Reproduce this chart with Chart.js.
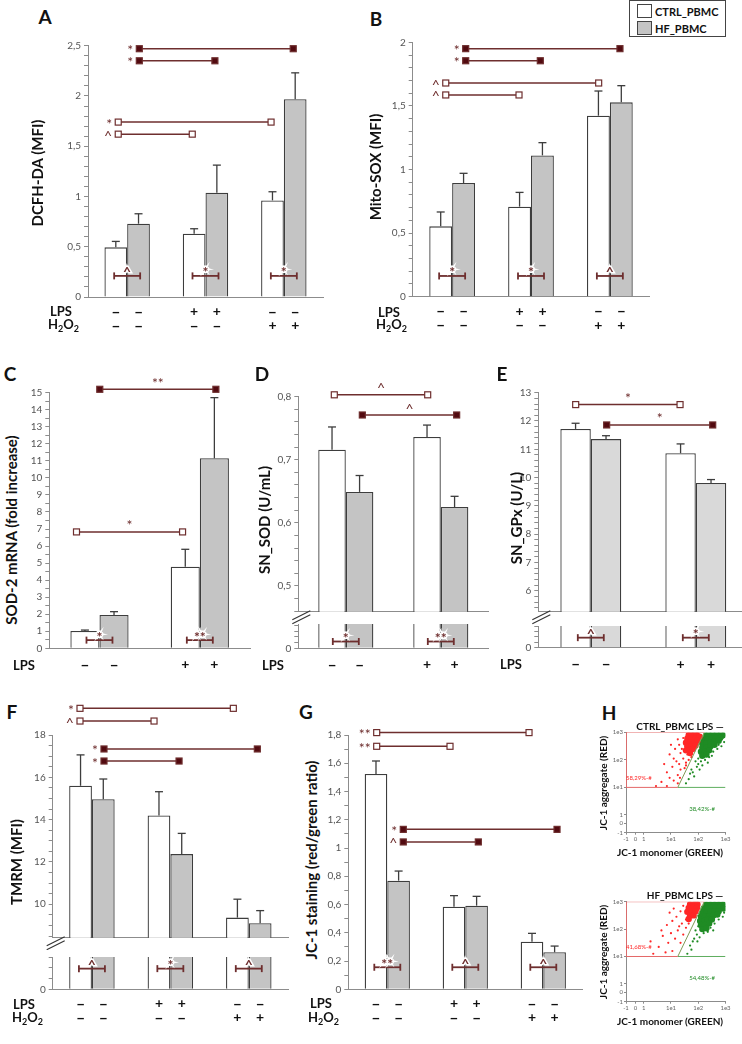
<!DOCTYPE html>
<html>
<head>
<meta charset="utf-8">
<script src="https://cdn.jsdelivr.net/npm/chart.js@4.4.0/dist/chart.umd.min.js"></script>
<style>
html, body { margin: 0; padding: 0; background: #fff; overflow: hidden; }
#fig { position: relative; width: 742px; height: 1044px; overflow: hidden; font-family: Lato, sans-serif; color: #111; }
#fig canvas { position: absolute; }
.let { position: absolute; font-weight: bold; font-size: 19px; transform: translate(-50%, -50%); }
.yt { position: absolute; white-space: nowrap; font-weight: bold; font-size: 15px; transform: translate(-50%, -50%) rotate(-90deg); }
.row { position: absolute; white-space: nowrap; font-weight: bold; font-size: 13px; transform: translateY(-50%); }
.row sub { font-size: 9px; vertical-align: -3px; }
.ht { position: absolute; white-space: nowrap; font-weight: bold; font-size: 10px; transform: translate(-50%, -50%); }
.hy { position: absolute; white-space: nowrap; font-weight: bold; font-size: 10px; transform: translate(-50%, -50%) rotate(-90deg); }
#legend { position: absolute; left: 629px; top: 0px; width: 95px; height: 35px; border: 1px solid #444; font-weight: bold; font-size: 11px; }
#legend div { position: absolute; left: 25px; transform: translateY(-50%); white-space: nowrap; }
#legend span { position: absolute; left: 7px; width: 13px; height: 12px; border: 1px solid #444; }
</style>
</head>
<body>
<div id="fig"><div id="legend"></div></div>
<script>
const series = ['CTRL_PBMC', 'HF_PBMC'];

// A: DCFH-DA (MFI)
const groups3 = ['basal', 'LPS', 'H2O2'];
const ctrlA = [0.494, 0.629, 0.961];
const ctrlErrA = [0.059, 0.05, 0.086];
const hfA = [0.729, 1.037, 1.968];
const hfErrA = [0.099, 0.275, 0.262];
const ticksA = [0, 0.5, 1, 1.5, 2, 2.5];
const innerA = ['^', '*', '*'];
const sigA = [
  {x1: 0.155, x2: 2.12, y: 2.47, fill: true, s: '*'},
  {x1: 0.155, x2: 1.12, y: 2.35, fill: true, s: '*'},
  {x1: -0.114, x2: 1.837, y: 1.74, fill: false, s: '*'},
  {x1: -0.114, x2: 0.831, y: 1.62, fill: false, s: '^'}
];

// B: Mito-SOX (MFI)
const ctrlB = [0.553, 0.708, 1.423];
const ctrlErrB = [0.113, 0.112, 0.194];
const hfB = [0.894, 1.111, 1.528];
const hfErrB = [0.076, 0.1, 0.131];
const ticksB = [0, 0.5, 1, 1.5, 2];
const innerB = ['*', '*', '^'];
const sigB = [
  {x1: 0.172, x2: 2.128, y: 1.95, fill: true, s: '*'},
  {x1: 0.172, x2: 1.118, y: 1.855, fill: true, s: '*'},
  {x1: -0.081, x2: 1.858, y: 1.68, fill: false, s: '^'},
  {x1: -0.081, x2: 0.848, y: 1.586, fill: false, s: '^'}
];

// C: SOD-2 mRNA (fold increase)
const groups2 = ['basal', 'LPS'];
const ctrlC = [1.02, 4.79];
const ctrlErrC = [0.05, 1.02];
const hfC = [1.96, 11.15];
const hfErrC = [0.19, 3.56];
const ticksC = [0, 1, 2, 3, 4, 5, 6, 7, 8, 9, 10, 11, 12, 13, 14, 15];
const innerC = ['*', '**'];
const sigC = [
  {x1: 0.003, x2: 1.16, y: 15.2, fill: true, s: '**', top: true},
  {x1: -0.229, x2: 0.828, y: 6.83, fill: false, s: '*', top: true}
];

// D: SN_SOD (U/mL)
const ctrlD = [0.716, 0.736];
const ctrlErrD = [0.036, 0.019];
const hfD = [0.649, 0.625];
const hfErrD = [0.026, 0.017];
const ticksD = [0.5, 0.6, 0.7, 0.8];
const innerD = ['*', '**'];
const sigD = [
  {x1: -0.121, x2: 0.862, y: 0.803, fill: false, s: '^', top: true},
  {x1: 0.174, x2: 1.167, y: 0.771, fill: true, s: '^', top: true}
];

// E: SN_GPx (U/L)
const ctrlE = [11.72, 10.86];
const ctrlErrE = [0.2, 0.33];
const hfE = [11.36, 9.81];
const hfErrE = [0.12, 0.12];
const ticksE = [6, 7, 8, 9, 10, 11, 12, 13];
const innerE = ['^', '*'];
const sigE = [
  {x1: -0.144, x2: 0.85, y: 12.58, fill: false, s: '*', top: true},
  {x1: 0.151, x2: 1.161, y: 11.86, fill: true, s: '*', top: true}
];

// F: TMRM (MFI)
const ctrlF = [15.6, 14.2, 9.37];
const ctrlErrF = [1.46, 1.12, 0.87];
const hfF = [14.96, 12.37, 9.1];
const hfErrF = [0.96, 0.98, 0.6];
const ticksF = [10, 12, 14, 16, 18];
const innerF = ['^', '*', '^'];
const sigF = [
  {x1: -0.152, x2: 1.803, y: 19.26, fill: false, s: '*'},
  {x1: -0.152, x2: 0.792, y: 18.66, fill: false, s: '^'},
  {x1: 0.154, x2: 2.109, y: 17.34, fill: true, s: '*'},
  {x1: 0.154, x2: 1.111, y: 16.77, fill: true, s: '*'}
];

// G: JC-1 staining (red/green ratio)
const ctrlG = [1.524, 0.585, 0.337];
const ctrlErrG = [0.092, 0.078, 0.059];
const hfG = [0.769, 0.592, 0.262];
const hfErrG = [0.068, 0.066, 0.044];
const ticksG = [0, 0.2, 0.4, 0.6, 0.8, 1, 1.2, 1.4, 1.6, 1.8];
const innerG = ['**', '^', '^'];
const sigG = [
  {x1: -0.136, x2: 1.817, y: 1.817, fill: false, s: '**'},
  {x1: -0.136, x2: 0.804, y: 1.72, fill: false, s: '**'},
  {x1: 0.205, x2: 2.176, y: 1.132, fill: true, s: '*'},
  {x1: 0.205, x2: 1.167, y: 1.043, fill: true, s: '^'}
];

// treatment rows under the bars
const lpsRow3 = ['–', '–', '+', '+', '–', '–'];
const h2o2Row3 = ['–', '–', '–', '–', '+', '+'];
const lpsRow2 = ['–', '–', '+', '+'];

// H: flow cytometry, axis units (-1, 0, 1, 1e1, 1e2, 1e3)
const flowTicks = [0, 0.35, 0.65, 1.65, 2.65, 3.65];
const flowTickLabels = ['-1', '0', '1', '1e1', '1e2', '1e3'];
const gateRed = [[2.87, 3.65], [0, 3.65], [0, 1.65], [1.9, 1.65]];
const gateGreen = [[1.9, 1.65], [3.65, 1.65]];
const gateDiag = [[1.9, 1.65], [2.87, 3.65]];
const ctrlRedCore = [[2.3, 3.55], [2.45, 3.55], [2.6, 3.55], [2.25, 3.42], [2.4, 3.42], [2.55, 3.42], [2.7, 3.5],
  [2.2, 3.28], [2.35, 3.28], [2.5, 3.3], [2.62, 3.35], [2.25, 3.15], [2.4, 3.15], [2.55, 3.18], [2.3, 3.02],
  [2.45, 3.05], [2.35, 2.9], [2.2, 3.0]];
const ctrlRed = [[1.95, 3.2], [2.0, 2.9], [2.1, 2.7], [1.85, 2.6], [2.2, 2.55], [1.7, 2.4], [2.0, 2.3], [1.6, 2.85],
  [1.8, 3.05], [2.3, 2.65], [1.5, 2.2], [1.9, 2.1], [1.98, 2.0], [1.4, 2.5], [1.75, 1.9], [1.3, 1.85], [1.9, 1.8],
  [1.6, 2.0], [2.15, 2.35], [1.95, 2.5], [2.25, 2.85], [1.75, 2.7], [1.1, 1.7], [1.5, 1.7], [2.4, 2.75], [2.05, 3.05],
  [1.9, 3.4], [2.1, 3.45], [1.65, 3.2], [2.2, 2.45]];
const ctrlGreenCore = [[2.95, 3.55], [3.1, 3.55], [3.25, 3.55], [3.4, 3.55], [3.55, 3.55], [2.85, 3.4], [3.0, 3.4],
  [3.15, 3.42], [3.3, 3.45], [3.45, 3.45], [2.8, 3.25], [2.95, 3.25], [3.1, 3.28], [3.25, 3.32], [3.4, 3.35],
  [2.8, 3.1], [2.95, 3.1], [3.1, 3.15], [3.25, 3.2], [2.75, 2.95], [2.9, 2.95], [3.05, 3.0], [2.8, 2.8], [2.95, 2.85]];
const ctrlGreen = [[2.6, 2.4], [2.7, 2.3], [2.55, 2.6], [2.65, 2.7], [2.75, 2.6], [2.9, 2.65], [3.05, 2.75], [3.2, 2.95],
  [3.35, 3.05], [3.5, 3.15], [3.6, 3.3], [2.45, 2.2], [2.5, 2.05], [2.3, 1.95], [2.8, 2.45], [3.0, 2.55], [3.15, 2.8],
  [3.4, 3.2], [2.65, 2.5], [3.55, 3.45], [2.4, 2.3], [2.2, 1.8], [2.35, 2.15]];
const hfRedCore = [[2.35, 3.55], [2.5, 3.55], [2.62, 3.55], [2.3, 3.42], [2.45, 3.42], [2.6, 3.42], [2.25, 3.28],
  [2.4, 3.28], [2.55, 3.3], [2.35, 3.15], [2.48, 3.15], [2.3, 3.02]];
const hfRed = [[2.0, 3.3], [1.85, 3.1], [1.7, 2.95], [2.05, 2.85], [1.5, 2.8], [1.9, 2.6], [1.65, 2.5], [2.2, 2.7],
  [1.35, 2.4], [1.8, 2.3], [2.0, 2.15], [1.55, 2.15], [1.2, 2.0], [1.7, 1.85], [1.45, 1.8], [1.0, 1.75], [2.1, 2.45],
  [1.95, 2.75], [2.2, 3.0], [1.6, 3.25], [2.1, 3.5], [1.75, 3.4], [2.3, 2.85], [1.3, 2.6], [0.9, 2.2]];
const hfGreenCore = [[2.95, 3.55], [3.1, 3.55], [3.25, 3.55], [3.4, 3.55], [3.55, 3.55], [2.85, 3.4], [3.0, 3.4],
  [3.15, 3.42], [3.3, 3.45], [3.45, 3.45], [3.58, 3.4], [2.8, 3.25], [2.95, 3.25], [3.1, 3.28], [3.25, 3.3], [3.4, 3.3],
  [2.75, 3.1], [2.9, 3.1], [3.05, 3.12], [3.2, 3.15], [3.35, 3.18], [2.72, 2.95], [2.87, 2.95], [3.0, 2.98],
  [3.15, 3.0], [2.75, 2.8], [2.9, 2.8], [3.05, 2.85], [2.8, 2.65], [2.95, 2.68]];
const hfGreen = [[2.6, 2.45], [2.7, 2.35], [2.55, 2.6], [2.65, 2.75], [3.1, 2.7], [3.25, 2.85], [3.4, 3.0], [3.55, 3.1],
  [2.45, 2.2], [2.35, 2.05], [2.5, 2.3], [2.85, 2.5], [3.0, 2.55], [3.6, 3.25], [2.4, 1.9], [2.25, 1.75], [2.62, 2.2],
  [3.2, 2.6]];
const ctrlPct = ['58,29%-#', '38,42%-#'];
const hfPct = ['41,68%-#', '54,48%-#'];

Chart.defaults.font.family = 'Lato, sans-serif';
const fig = document.getElementById('fig');
const AXIS = '#8c8c8c', EDGE = '#3d3d3d', MAROON = '#6e2e2e', DARK = '#520a10';
const GREY = '#c4c4c4', GREY_E = '#d9d9d9', RED = '#ff2626', GREEN = '#1f8b24';

function canvas(x, y, w, h) {
  const c = document.createElement('canvas');
  c.width = w; c.height = h;
  c.style.left = x + 'px'; c.style.top = y + 'px';
  c.style.width = w + 'px'; c.style.height = h + 'px';
  fig.appendChild(c);
  return c;
}

function put(html, cls, x, y) {
  const d = document.createElement('div');
  d.className = cls; d.innerHTML = html;
  d.style.left = x + 'px'; d.style.top = y + 'px';
  fig.appendChild(d);
}

function tickList(min, max, step) {
  const out = [];
  for (let k = Math.ceil(min / step - 1e-9); k * step <= max + 1e-9; k++) {
    out.push({value: Math.round(k * step * 1e6) / 1e6});
  }
  return out;
}
const fmt = v => String(v).replace('.', ',');

// error bars, significance brackets, inner markers, +/- rows, axis break
const deco = {
  id: 'deco',
  afterDraw(chart, args, o) {
    if (!o) return;
    const {ctx, chartArea: a, scales: {x, y}} = chart;
    const seg = (x1, y1, x2, y2) => { ctx.beginPath(); ctx.moveTo(x1, y1); ctx.lineTo(x2, y2); ctx.stroke(); };
    ctx.save();
    ctx.textAlign = 'center';
    ctx.textBaseline = 'middle';

    (o.err || []).forEach((errs, di) => {
      const ds = chart.data.datasets[di];
      chart.getDatasetMeta(di).data.forEach((bar, i) => {
        const y0 = y.getPixelForValue(ds.data[i]);
        const y1 = y.getPixelForValue(ds.data[i] + errs[i]);
        ctx.strokeStyle = EDGE; ctx.lineWidth = 1.3;
        seg(bar.x, y0, bar.x, y1);
        seg(bar.x - 4, y1, bar.x + 4, y1);
      });
    });

    (o.brackets || []).forEach(b => {
      const p1 = x.getPixelForValue(b.x1), p2 = x.getPixelForValue(b.x2), py = y.getPixelForValue(b.y);
      ctx.strokeStyle = MAROON; ctx.lineWidth = 1.5;
      seg(p1, py, p2, py);
      [p1, p2].forEach(px => {
        ctx.fillStyle = b.fill ? DARK : '#fff';
        ctx.fillRect(px - 3, py - 3, 6, 6);
        ctx.lineWidth = 1.2;
        ctx.strokeRect(px - 3, py - 3, 6, 6);
      });
      ctx.fillStyle = MAROON;
      ctx.font = '14px Lato';
      if (b.top) {
        ctx.fillText(b.s, (p1 + p2) / 2, py - 6);
      } else {
        ctx.textAlign = 'right';
        ctx.fillText(b.s, p1 - 6, py + 2);
        ctx.textAlign = 'center';
      }
    });

    if (o.inner) {
      o.inner.s.forEach((s, i) => {
        const cx = x.getPixelForValue(i), py = y.getPixelForValue(o.inner.y);
        ctx.strokeStyle = MAROON; ctx.lineWidth = 1.8;
        seg(cx - 13, py, cx + 13, py);
        seg(cx - 13, py - 3.5, cx - 13, py + 3.5);
        seg(cx + 13, py - 3.5, cx + 13, py + 3.5);
        ctx.font = 'bold 14px Lato';
        ctx.lineWidth = 3; ctx.strokeStyle = '#fff';
        ctx.strokeText(s, cx, py - 3);
        ctx.fillStyle = MAROON;
        ctx.fillText(s, cx, py - 3);
      });
    }

    (o.rows || []).forEach((row, r) => {
      ctx.fillStyle = '#111';
      row.forEach((s, k) => {
        const bar = chart.getDatasetMeta(k % 2).data[Math.floor(k / 2)];
        ctx.font = s === '+' ? 'bold 14px Lato' : 'bold 16px Lato';
        ctx.fillText(s, bar.x, a.bottom + o.rowY + r * 14);
      });
    });

    if (o.brk) {
      ctx.strokeStyle = '#333'; ctx.lineWidth = 1.2;
      seg(a.left - 6, a.bottom + 12, a.left + 12, a.bottom + 3);
      seg(a.left - 6, a.bottom + 8, a.left + 12, a.bottom - 1);
    }
    ctx.restore();
  }
};

function barChart(o) {
  const [cx, cy, cw, ch] = o.box, [L, T, R, B] = o.area;
  const cv = canvas(cx, cy, cw, ch);
  const mk = (label, data, bg) => ({
    label, data, backgroundColor: bg, borderColor: EDGE, borderWidth: 1.3,
    categoryPercentage: 0.58, barPercentage: 1, clip: 0
  });
  return new Chart(cv, {
    type: 'bar',
    data: {labels: o.labels, datasets: [mk(series[0], o.ctrl, '#fff'), mk(series[1], o.hf, o.grey || GREY)]},
    options: {
      responsive: false, animation: false, events: [],
      layout: {padding: {left: 0, top: T - cy, right: cx + cw - R, bottom: cy + ch - B}},
      plugins: {legend: {display: false}, tooltip: {enabled: false}, deco: o.deco},
      scales: {
        x: {
          ticks: {display: false}, grid: {display: false}, border: {color: AXIS},
          afterFit: s => { s.height = 0; }
        },
        y: {
          min: o.min, max: o.max,
          afterFit: s => { s.width = L - cx; },
          afterBuildTicks: s => { s.ticks = tickList(o.min, o.max, o.step); },
          ticks: {
            autoSkip: false, color: '#555', font: {size: 10}, padding: 3,
            callback: v => o.majors.some(m => Math.abs(m - v) < 1e-6) ? fmt(v) : ''
          },
          grid: {drawOnChartArea: false, tickLength: 4, color: AXIS},
          border: {color: AXIS}
        }
      }
    },
    plugins: [deco]
  });
}

const flowText = {
  id: 'flowText',
  afterDatasetsDraw(chart, args, o) {
    const {ctx, scales: {x, y}} = chart;
    ctx.save();
    ctx.font = '6px Lato';
    ctx.textAlign = 'center'; ctx.textBaseline = 'middle';
    o.items.forEach(t => {
      ctx.fillStyle = t.c;
      ctx.fillText(t.t, x.getPixelForValue(t.x), y.getPixelForValue(t.y));
    });
    ctx.restore();
  }
};

function flowChart(o) {
  const [cx, cy, cw, ch] = o.box, [L, T, R, B] = o.area;
  const cv = canvas(cx, cy, cw, ch);
  const pts = d => d.map(([x, y]) => ({x, y}));
  const line = (d, c) => ({data: pts(d), showLine: true, borderColor: c, borderWidth: 1, pointRadius: 0, fill: false});
  const dots = (d, c, r) => ({data: pts(d), pointBackgroundColor: c, pointBorderWidth: 0, pointRadius: r});
  const axis = fit => ({
    type: 'linear', min: 0, max: 3.65, afterFit: fit,
    afterBuildTicks: s => { s.ticks = flowTicks.map(value => ({value})); },
    ticks: {autoSkip: false, color: '#666', font: {size: 6}, padding: 1, callback: (v, i) => flowTickLabels[i]},
    grid: {drawOnChartArea: false, tickLength: 2, color: AXIS},
    border: {color: AXIS}
  });
  return new Chart(cv, {
    type: 'scatter',
    data: {datasets: [
      line(gateRed, '#e46868'), line(gateGreen, '#5fae5f'), line(gateDiag, '#7f9a55'),
      dots(o.redCore, RED, 3.2), dots(o.red, RED, 1.1),
      dots(o.greenCore, GREEN, 3.2), dots(o.green, GREEN, 1.1)
    ]},
    options: {
      responsive: false, animation: false, events: [],
      layout: {padding: {left: 0, top: T - cy, right: cx + cw - R, bottom: cy + ch - B - 9}},
      plugins: {legend: {display: false}, tooltip: {enabled: false}, flowText: {items: [
        {t: o.pct[0], x: 0.47, y: 2.0, c: RED}, {t: o.pct[1], x: 2.79, y: 0.86, c: GREEN}
      ]}},
      scales: {x: axis(s => { s.height = 9; }), y: axis(s => { s.width = L - cx; })}
    },
    plugins: [flowText]
  });
}

// legend
const leg = document.getElementById('legend');
series.forEach((name, i) => {
  leg.innerHTML += `<span style="top:${3 + i * 17}px;background:${i ? GREY : '#fff'}"></span>` +
    `<div style="top:${10 + i * 16.5}px">${name}</div>`;
});

// A
barChart({box: [40, 30, 290, 305], area: [88, 45.7, 323, 297], labels: groups3, ctrl: ctrlA, hf: hfA,
  min: 0, max: 2.5, step: 0.1, majors: ticksA,
  deco: {err: [ctrlErrA, hfErrA], brackets: sigA, inner: {y: 0.21, s: innerA}, rows: [lpsRow3, h2o2Row3], rowY: 14.5}});
// B
barChart({box: [380, 30, 275, 305], area: [412.7, 42.3, 649.3, 296.7], labels: groups3, ctrl: ctrlB, hf: hfB,
  min: 0, max: 2, step: 0.1, majors: ticksB,
  deco: {err: [ctrlErrB, hfErrB], brackets: sigB, inner: {y: 0.163, s: innerB}, rows: [lpsRow3, h2o2Row3], rowY: 14.5}});
// C
barChart({box: [20, 370, 235, 305], area: [49.3, 392.7, 250, 648.3], labels: groups2, ctrl: ctrlC, hf: hfC,
  min: 0, max: 15, step: 0.5, majors: ticksC,
  deco: {err: [ctrlErrC, hfErrC], brackets: sigC, inner: {y: 0.48, s: innerC}, rows: [lpsRow2], rowY: 16.5}});
// D (broken axis)
barChart({box: [270, 375, 225, 250], area: [298.3, 396.7, 488.3, 611.7], labels: groups2, ctrl: ctrlD, hf: hfD,
  min: 0.459, max: 0.8, step: 0.02, majors: ticksD,
  deco: {err: [ctrlErrD, hfErrD], brackets: sigD, brk: true}});
barChart({box: [270, 615, 225, 60], area: [298.3, 621, 488.3, 648.3], labels: groups2, ctrl: ctrlD, hf: hfD,
  min: 0, max: 0.043, step: 0.01, majors: [0],
  deco: {inner: {y: 0.012, s: innerD}, rows: [lpsRow2], rowY: 16.5}});
// E (broken axis)
barChart({box: [505, 375, 250, 250], area: [538.3, 392.7, 748.3, 611.7], labels: groups2, ctrl: ctrlE, hf: hfE, grey: GREY_E,
  min: 5.26, max: 13, step: 0.2, majors: ticksE,
  deco: {err: [ctrlErrE, hfErrE], brackets: sigE, brk: true}});
barChart({box: [505, 617, 250, 58], area: [538.3, 625, 748.3, 647.7], labels: groups2, ctrl: ctrlE, hf: hfE, grey: GREY_E,
  min: 0, max: 0.8, step: 0.2, majors: [0],
  deco: {inner: {y: 0.37, s: innerE}, rows: [lpsRow2], rowY: 16.5}});
// F (broken axis)
barChart({box: [20, 695, 275, 255], area: [52.7, 735, 288, 937.7], labels: groups3, ctrl: ctrlF, hf: hfF,
  min: 8.42, max: 18, step: 0.5, majors: ticksF,
  deco: {err: [ctrlErrF, hfErrF], brackets: sigF, brk: true}});
barChart({box: [20, 948, 275, 90], area: [52.7, 955, 288, 989.3], labels: groups3, ctrl: ctrlF, hf: hfF,
  min: 0, max: 1.5, step: 0.5, majors: [0],
  deco: {inner: {y: 0.96, s: innerF}, rows: [lpsRow3, h2o2Row3], rowY: 14.5}});
// G
barChart({box: [320, 700, 270, 340], area: [348.3, 735, 582.3, 989.3], labels: groups3, ctrl: ctrlG, hf: hfG,
  min: 0, max: 1.8, step: 0.1, majors: ticksG,
  deco: {err: [ctrlErrG, hfErrG], brackets: sigG, inner: {y: 0.156, s: innerG}, rows: [lpsRow3, h2o2Row3], rowY: 14.5}});
// H
flowChart({box: [596, 726, 140, 124], area: [626, 732.5, 725.5, 832.7],
  redCore: ctrlRedCore, red: ctrlRed, greenCore: ctrlGreenCore, green: ctrlGreen, pct: ctrlPct});
flowChart({box: [596, 895, 140, 124], area: [626, 901.7, 725.5, 1001.7],
  redCore: hfRedCore, red: hfRed, greenCore: hfGreenCore, green: hfGreen, pct: hfPct});

// panel letters
[['A', 45, 16], ['B', 376, 18], ['C', 10, 373], ['D', 262, 373], ['E', 502, 373],
 ['F', 12, 711], ['G', 306, 711], ['H', 609, 712]].forEach(([t, x, y]) => put(t, 'let', x, y));

// y axis titles
[['DCFH-DA (MFI)', 37, 173], ['Mito-SOX (MFI)', 375, 167], ['SOD-2 mRNA (fold increase)', 11, 530],
 ['SN_SOD (U/mL)', 264, 520], ['SN_GPx (U/L)', 516, 518], ['TMRM (MFI)', 16, 862],
 ['JC-1 staining (red/green ratio)', 311, 860]].forEach(([t, x, y]) => put(t, 'yt', x, y));

// treatment row labels
const H2O2 = 'H<sub>2</sub>O<sub>2</sub>';
[['LPS', 50, 311], [H2O2, 48, 325], ['LPS', 378, 311.5], [H2O2, 376, 325],
 ['LPS', 13, 665], ['LPS', 262, 665], ['LPS', 500, 664],
 ['LPS', 13, 1004], [H2O2, 12, 1018], ['LPS', 310, 1003], [H2O2, 308, 1018]].forEach(([t, x, y]) => put(t, 'row', x, y));

// H texts
put('CTRL_PBMC LPS —', 'ht', 680, 725.5);
put('JC-1 aggregate (RED)', 'hy', 603, 783);
put('JC-1 monomer (GREEN)', 'ht', 670, 852);
put('HF_PBMC LPS —', 'ht', 685, 894.5);
put('JC-1 aggregate (RED)', 'hy', 603, 952);
put('JC-1 monomer (GREEN)', 'ht', 670, 1021);
</script>
</body>
</html>
